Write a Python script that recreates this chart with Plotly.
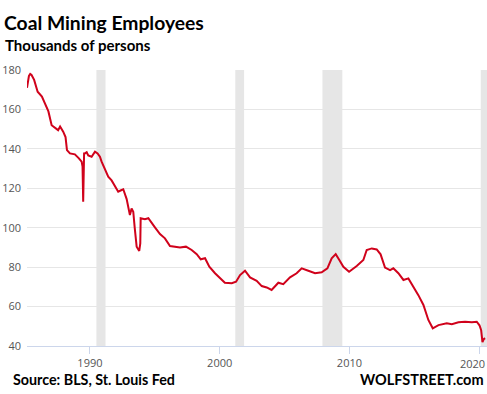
import plotly.graph_objects as go

# Coal mining employees (thousands)
years = [1985.15, 1985.3, 1985.4, 1985.5, 1985.7, 1985.97, 1986.3, 1986.53, 1986.8,
         1987.05, 1987.3, 1987.55, 1987.7, 1987.94, 1988.12, 1988.23, 1988.46, 1988.84,
         1989.15, 1989.36, 1989.43, 1989.48, 1989.55, 1989.61, 1989.75, 1989.87,
         1990.13, 1990.39, 1990.59, 1990.77, 1990.9, 1991.16, 1991.41, 1991.67, 1991.8,
         1992.06, 1992.18, 1992.4, 1992.57, 1992.83, 1993.0, 1993.08, 1993.21, 1993.34,
         1993.45, 1993.6, 1993.8, 1993.88, 1993.91, 1994.24, 1994.5, 1994.76, 1995.01,
         1995.4, 1995.78, 1996.17, 1996.55, 1996.94, 1997.4, 1997.84, 1998.23, 1998.54,
         1998.87, 1999.2, 1999.64, 2000.02, 2000.4, 2000.93, 2001.26, 2001.57, 2001.95,
         2002.34, 2002.85, 2003.24, 2003.62, 2004.0, 2004.52, 2004.9, 2005.42, 2005.93,
         2006.32, 2006.83, 2007.35, 2007.86, 2008.3, 2008.63, 2008.94, 2009.22, 2009.53,
         2009.97, 2010.56, 2011.07, 2011.33, 2011.72, 2012.1, 2012.4, 2012.74, 2013.13,
         2013.38, 2013.77, 2014.16, 2014.54, 2014.93, 2015.31, 2015.7, 2016.08, 2016.42,
         2016.86, 2017.5, 2017.89, 2018.4, 2018.91, 2019.43, 2019.81, 2020.02, 2020.15,
         2020.25, 2020.35, 2020.45]
employees = [171, 177, 178, 177.5, 175, 169, 166.5, 163, 159,
             152, 150.5, 149.5, 151.3, 148.7, 146, 139.4, 137.7, 137.2,
             135.2, 133.5, 131, 113.2, 137.7, 137.7, 138.3, 136.7,
             136, 138.6, 137.7, 136, 133.5, 129.3, 125.9, 124, 122.5,
             119.1, 118.3, 119, 119.5, 114.5, 110, 106.4, 109.8, 108.1,
             100, 90.4, 88.2, 92, 104.8, 104.3, 104.8, 102.2, 100.2,
             96.8, 94.6, 90.7, 90.4, 90, 90.4, 88.7, 86.6, 84,
             84.5, 80.2, 76.9, 74.3, 72.1, 71.8, 72.6, 76, 78.2,
             74.8, 73.1, 70.4, 69.7, 68.4, 72.1, 71.4, 74.8, 76.9,
             79.4, 78.2, 76.9, 77.4, 79.4, 84.5, 86.6, 83.6, 80.2,
             77.7, 80.6, 83.6, 88.7, 89.5, 89, 86.5, 79.8, 78.5,
             79.4, 76.9, 73.5, 74.3, 70.1, 65.8, 60.8, 53.2, 49,
             50.6, 51.5, 51.1, 52, 52.3, 52, 52.3, 50.5, 48,
             42, 43.5, 44]

# Recessions (start, end) in decimal years
rec_start = [1990.5, 2001.2, 2007.92, 2020.12]
rec_end = [1991.2, 2001.88, 2009.45, 2020.7]

x_ticks = [1990, 2000, 2010, 2020]
x_labels = ["1990", "2000", "2010", "2020"]
y_ticks = [40, 60, 80, 100, 120, 140, 160, 180]

fig = go.Figure()
fig.add_trace(go.Scatter(x=years, y=employees, mode="lines",
                         line=dict(color="#d0021b", width=2), hoverinfo="skip"))

for s, e in zip(rec_start, rec_end):
    fig.add_shape(type="rect", xref="x", yref="paper", x0=s, x1=e, y0=0, y1=1,
                  fillcolor="#e6e6e6", line=dict(width=0), layer="below")

tick_font = dict(family="Open Sans", size=11, color="#555555")

# last tick label is drawn as an annotation so it can be kept inside the canvas
annotations = [
    dict(text=x_labels[-1], xref="x", yref="paper", x=x_ticks[-1], y=0,
         xanchor="center", yanchor="top", xshift=-7, yshift=-8, showarrow=False,
         font=tick_font),
    dict(text="Coal Mining Employees", xref="paper", yref="paper", x=0, y=1,
         xanchor="left", yanchor="middle", xshift=-25, yshift=48, showarrow=False,
         font=dict(family="Lato", size=19.3, color="black", weight="bold")),
    dict(text="Thousands of persons", xref="paper", yref="paper", x=0, y=1,
         xanchor="left", yanchor="middle", xshift=-24, yshift=25, showarrow=False,
         font=dict(family="Lato", size=15, color="black", weight="bold")),
    dict(text="Source: BLS, St. Louis Fed", xref="paper", yref="paper", x=0, y=0,
         xanchor="left", yanchor="middle", xshift=-16, yshift=-33, showarrow=False,
         font=dict(family="Lato", size=14.3, color="black", weight="bold")),
    dict(text="WOLFSTREET.com", xref="paper", yref="paper", x=1, y=0,
         xanchor="right", yanchor="middle", xshift=-1, yshift=-33, showarrow=False,
         font=dict(family="Lato", size=14.5, color="black", weight="bold")),
]

fig.update_layout(
    width=487, height=394,
    margin=dict(l=27, r=0, t=70, b=48),
    paper_bgcolor="white", plot_bgcolor="white",
    showlegend=False,
    xaxis=dict(range=[1985.15, 2020.6], tickvals=x_ticks,
               ticktext=x_labels[:-1] + [""],
               showgrid=False, zeroline=False, showline=True, linecolor="#ccd6eb", linewidth=1,
               ticks="outside", ticklen=7, tickcolor="#ccd6eb", tickfont=tick_font),
    yaxis=dict(range=[40, 180], tickvals=y_ticks, showgrid=True, gridcolor="#e6e6e6", gridwidth=1,
               zeroline=False, showline=False, ticks="", ticklabelstandoff=5,
               tickfont=tick_font),
    annotations=annotations,
)

fig.write_html("out.html", config={"displayModeBar": False})
with open("out.html", "r", encoding="utf-8") as f:
    html = f.read()
html = html.replace("<head>", "<head><style>html,body{margin:0;padding:0;overflow:hidden;}</style>", 1)
with open("out.html", "w", encoding="utf-8") as f:
    f.write(html)
